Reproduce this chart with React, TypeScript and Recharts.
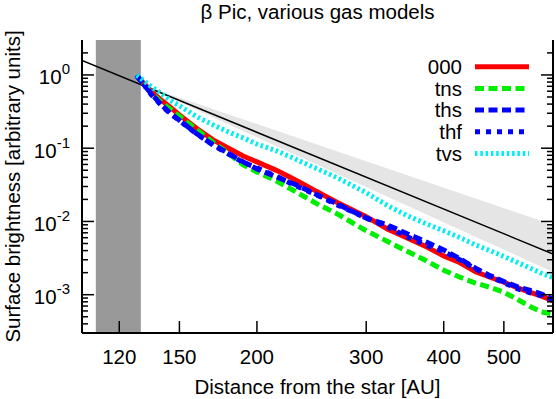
import React from 'react';
import { ComposedChart, Line, Area, XAxis, YAxis, ReferenceArea } from 'recharts';

// ---------- data ----------
const distanceAU = [128, 135, 140, 145, 150, 160, 170, 180, 190, 200, 215, 230, 250, 270, 300, 325, 350, 375, 400, 425, 450, 475, 500, 525, 550, 575, 600];
const model000 = [0.969, 0.607, 0.458, 0.362, 0.285, 0.186, 0.130, 0.0997, 0.0781, 0.0650, 0.0498, 0.0374, 0.0255, 0.01805, 0.01162, 0.00784, 0.00592, 0.00450, 0.00339, 0.00273, 0.00206, 0.00173, 0.00148, 0.00125, 0.00108, 0.000957, 0.000831];
const modelTns = [0.969, 0.570, 0.430, 0.340, 0.273, 0.179, 0.1195, 0.0848, 0.0592, 0.0475, 0.0356, 0.0260, 0.01738, 0.01256, 0.00746, 0.00532, 0.00389, 0.00290, 0.00216, 0.00173, 0.00144, 0.00126, 0.00108, 0.000869, 0.000697, 0.000581, 0.000545];
const modelThs = [0.969, 0.561, 0.398, 0.300, 0.241, 0.157, 0.1109, 0.0848, 0.0650, 0.0522, 0.0407, 0.0322, 0.0232, 0.01722, 0.01112, 0.00893, 0.00675, 0.00525, 0.00409, 0.00309, 0.00230, 0.00182, 0.00151, 0.00129, 0.00115, 0.00102, 0.000871];
const modelThf = [1.0, 0.544, 0.392, 0.296, 0.238, 0.156, 0.1105, 0.0834, 0.0640, 0.0539, 0.0413, 0.0312, 0.0228, 0.0167, 0.01112, 0.00839, 0.00614, 0.00478, 0.00385, 0.00299, 0.00226, 0.00176, 0.00146, 0.00121, 0.00107, 0.000972, 0.000859];
const modelTvs = [0.991, 0.698, 0.561, 0.451, 0.380, 0.269, 0.208, 0.166, 0.1385, 0.1140, 0.0922, 0.0718, 0.0524, 0.0392, 0.0247, 0.01643, 0.01191, 0.00927, 0.00746, 0.00600, 0.00479, 0.00400, 0.00333, 0.00277, 0.00233, 0.00196, 0.00171];

// power-law reference and its envelope
const refDistance = [104.5, 600];
const refValue = [1.58, 0.0036];
const envDistance = [130, 600];
const envLow = [0.739, 0.00204];
const envHigh = [0.739, 0.00897];

// inner (masked) region
const innerEdge = [110, 130];

const xTicks = [120, 150, 200, 300, 400, 500];
const yDecades = [0.001, 0.01, 0.1, 1];
const yMinorMult = [2, 3, 4, 5, 6, 7, 8, 9];
const xDomain = [104.5, 600];
const yDomain = [3e-4, 3];

const seriesNames = ['000', 'tns', 'ths', 'thf', 'tvs'];
const seriesKeys = ['m000', 'tns', 'ths', 'thf', 'tvs'];
const seriesColors = ['#ff0000', '#00ee00', '#0000ff', '#0000ff', '#00eeee'];
const seriesDash = ['', '9 4.5', '9 4.5', '5 6', '2.5 2.8'];

const titleText = 'β Pic, various gas models';
const xTitle = 'Distance from the star [AU]';
const yTitle = 'Surface brightness [arbitrary units]';

// ---------- derived tables ----------
const modelRows = distanceAU.map((d, i) => ({
  d,
  m000: model000[i],
  tns: modelTns[i],
  ths: modelThs[i],
  thf: modelThf[i],
  tvs: modelTvs[i],
}));
const refRows = refDistance.map((d, i) => ({ d, v: refValue[i] }));
const envRows = envDistance.map((d, i) => ({ d, band: [envLow[i], envHigh[i]] }));

const yTicksAll: number[] = [];
[0.0001, 0.001, 0.01, 0.1, 1].forEach((dec) => {
  yMinorMult.forEach((m) => {
    const v = +(dec * m).toPrecision(3);
    if (v > yDomain[0] && v < yDomain[1]) yTicksAll.push(v);
  });
});
yDecades.forEach((v) => yTicksAll.push(v));
yTicksAll.sort((a, b) => a - b);

const FONT = '"Liberation Sans", Arial, Helvetica, sans-serif';
const FS = 20.5;

const isDecade = (v: number) => Math.abs(Math.log10(v) - Math.round(Math.log10(v))) < 1e-6;

const BottomTick = (props: any) => {
  const { x, y, payload } = props;
  return (
    <g>
      <line x1={x} y1={y} x2={x} y2={y - 12} stroke="#000" strokeWidth={1.5} />
      <text x={x} y={y + 31} textAnchor="middle" fontSize={FS} fontFamily={FONT} fill="#000">
        {payload.value}
      </text>
    </g>
  );
};

const TopTick = (props: any) => {
  const { x, y } = props;
  return <line x1={x} y1={y} x2={x} y2={y + 12} stroke="#000" strokeWidth={1.5} />;
};

const LeftTick = (props: any) => {
  const { x, y, payload } = props;
  const major = isDecade(payload.value);
  const exp = Math.round(Math.log10(payload.value));
  return (
    <g>
      <line x1={x} y1={y} x2={x + (major ? 12 : 6)} y2={y} stroke="#000" strokeWidth={1.5} />
      {major && (
        <text x={x - 12} y={y + 9.5} textAnchor="end" fontSize={FS} fontFamily={FONT} fill="#000">
          <tspan>10</tspan>
          <tspan dy={-10} fontSize={15}>{String(exp)}</tspan>
        </text>
      )}
    </g>
  );
};

const RightTick = (props: any) => {
  const { x, y, payload } = props;
  const major = isDecade(payload.value);
  return <line x1={x} y1={y} x2={x - (major ? 12 : 6)} y2={y} stroke="#000" strokeWidth={1.5} />;
};

const frame = { stroke: '#000', strokeWidth: 2 };

export default function App() {
  return (
    <div style={{ position: 'absolute', left: 0, top: 0, width: 556, height: 399, background: '#fff' }}>
      <ComposedChart
        width={556}
        height={399}
        data={modelRows}
        margin={{ top: 40, right: 0, bottom: 0, left: 0 }}
        style={{ fontFamily: FONT }}
      >
        <XAxis
          dataKey="d"
          type="number"
          scale="log"
          domain={xDomain}
          allowDataOverflow
          ticks={xTicks}
          interval={0}
          height={66}
          tickSize={0}
          tickMargin={0}
          tickLine={false}
          axisLine={frame}
          tick={BottomTick}
        />
        <XAxis
          xAxisId="top"
          orientation="top"
          dataKey="d"
          type="number"
          scale="log"
          domain={xDomain}
          allowDataOverflow
          ticks={xTicks}
          interval={0}
          height={0}
          tickSize={0}
          tickMargin={0}
          tickLine={false}
          axisLine={frame}
          tick={TopTick}
        />
        <YAxis
          type="number"
          scale="log"
          domain={yDomain}
          allowDataOverflow
          ticks={yTicksAll}
          interval={0}
          width={82}
          tickSize={0}
          tickMargin={0}
          tickLine={false}
          axisLine={frame}
          tick={LeftTick}
        />
        <YAxis
          yAxisId="right"
          orientation="right"
          type="number"
          scale="log"
          domain={yDomain}
          allowDataOverflow
          ticks={yTicksAll}
          interval={0}
          width={3}
          tickSize={0}
          tickMargin={0}
          tickLine={false}
          axisLine={frame}
          tick={RightTick}
        />
        <ReferenceArea x1={innerEdge[0]} x2={innerEdge[1]} fill="#999999" fillOpacity={1} stroke="none" ifOverflow="hidden" />
        <Area
          data={envRows}
          dataKey="band"
          type="linear"
          fill="#e5e5e5"
          fillOpacity={1}
          stroke="none"
          isAnimationActive={false}
          dot={false}
          activeDot={false}
        />
        <Line
          data={refRows}
          dataKey="v"
          type="linear"
          stroke="#000"
          strokeWidth={1.5}
          dot={false}
          activeDot={false}
          isAnimationActive={false}
        />
        {seriesKeys.map((k, i) => (
          <Line
            key={k}
            dataKey={k}
            type="linear"
            stroke={seriesColors[i]}
            strokeWidth={5}
            strokeDasharray={seriesDash[i] || undefined}
            dot={false}
            activeDot={false}
            isAnimationActive={false}
          />
        ))}
        <text x={317.5} y={19} textAnchor="middle" fontSize={FS} fontFamily={FONT} fill="#000">
          {titleText}
        </text>
        <text x={317.5} y={394} textAnchor="middle" fontSize={FS} fontFamily={FONT} fill="#000">
          {xTitle}
        </text>
        <text
          transform="translate(20,186.5) rotate(-90)"
          x={0}
          y={0}
          textAnchor="middle"
          fontSize={FS}
          fontFamily={FONT}
          fill="#000"
        >
          {yTitle}
        </text>
        {seriesNames.map((n, i) => (
          <g key={n}>
            <text x={462} y={66.7 + 21.7 * i + 7.3} textAnchor="end" fontSize={FS} fontFamily={FONT} fill="#000">
              {n}
            </text>
            <line
              x1={475}
              x2={529}
              y1={66.7 + 21.7 * i}
              y2={66.7 + 21.7 * i}
              stroke={seriesColors[i]}
              strokeWidth={5}
              strokeDasharray={seriesDash[i] || undefined}
            />
          </g>
        ))}
      </ComposedChart>
    </div>
  );
}
